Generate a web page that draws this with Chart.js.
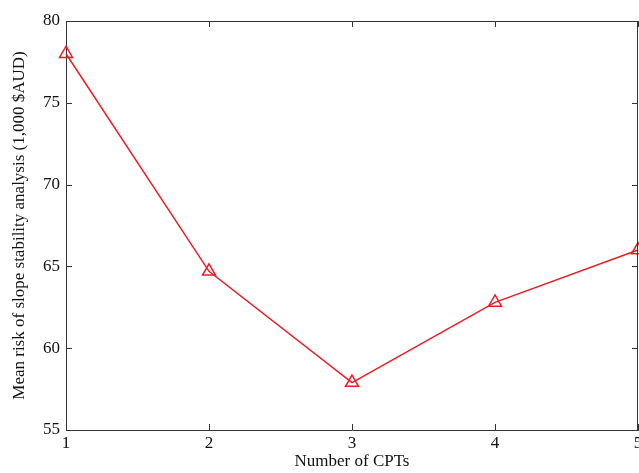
<!DOCTYPE html>
<html>
<head>
<meta charset="utf-8">
<script src="https://cdn.jsdelivr.net/npm/chart.js@4/dist/chart.umd.min.js"></script>
<style>
  html, body { margin: 0; padding: 0; background: #fff; overflow: hidden; }
  #wrap { width: 639px; height: 473px; overflow: hidden; position: relative; }
  #chart { display: block; }
</style>
</head>
<body>
<div id="wrap"><canvas id="chart" width="700" height="473"></canvas></div>
<script>
// number of CPTs vs mean risk (1,000 $AUD)
const cptCounts = [1, 2, 3, 4, 5];
const meanRisk = [78.0, 64.7, 57.9, 62.8, 66.0];
const yTicks = [55, 60, 65, 70, 75, 80];

const serif = '"Liberation Serif", "Times New Roman", serif';
const lineRed = '#ee1c25';
const axisColor = '#333';

// MATLAB style box: top/right border lines and inward ticks on all sides
const boxTicks = {
  id: 'boxTicks',
  afterDraw(chart) {
    const { ctx, chartArea: a, scales } = chart;
    const len = 6;
    ctx.save();
    ctx.strokeStyle = axisColor;
    ctx.lineWidth = 1;
    ctx.beginPath();
    ctx.moveTo(a.left, a.top + 0.5);
    ctx.lineTo(a.right, a.top + 0.5);
    ctx.moveTo(a.right - 0.5, a.top);
    ctx.lineTo(a.right - 0.5, a.bottom);
    cptCounts.forEach(v => {
      const px = Math.round(scales.x.getPixelForValue(v)) + 0.5;
      ctx.moveTo(px, a.bottom);
      ctx.lineTo(px, a.bottom - len);
      ctx.moveTo(px, a.top);
      ctx.lineTo(px, a.top + len);
    });
    yTicks.forEach(v => {
      const py = Math.round(scales.y.getPixelForValue(v)) + 0.5;
      ctx.moveTo(a.left, py);
      ctx.lineTo(a.left + len, py);
      ctx.moveTo(a.right, py);
      ctx.lineTo(a.right - len, py);
    });
    ctx.stroke();
    ctx.restore();
  }
};

new Chart(document.getElementById('chart'), {
  type: 'line',
  data: {
    datasets: [{
      data: cptCounts.map((c, i) => ({ x: c, y: meanRisk[i] })),
      borderColor: lineRed,
      borderWidth: 1.5,
      pointStyle: 'triangle',
      pointRadius: 7.5,
      pointBorderWidth: 1.5,
      pointBorderColor: lineRed,
      pointBackgroundColor: 'rgba(0,0,0,0)',
      tension: 0,
      clip: false
    }]
  },
  options: {
    responsive: false,
    animation: false,
    events: [],
    layout: { padding: { top: 21, right: 62, left: 0, bottom: 0 } },
    plugins: { legend: { display: false }, tooltip: { enabled: false } },
    scales: {
      x: {
        type: 'linear',
        min: 1,
        max: 5,
        afterFit(scale) { scale.height = 43; },
        afterBuildTicks(scale) { scale.ticks = cptCounts.map(v => ({ value: v })); },
        grid: { display: false, drawTicks: false },
        border: { display: true, color: axisColor, width: 1 },
        ticks: {
          padding: 3,
          color: '#111',
          font: { family: serif, size: 17 },
          maxRotation: 0
        },
        title: {
          display: true,
          text: 'Number of CPTs',
          color: '#111',
          font: { family: serif, size: 17 },
          padding: { top: 0, bottom: 1 }
        }
      },
      y: {
        min: 55,
        max: 80,
        afterFit(scale) { scale.width = 66; },
        afterBuildTicks(scale) { scale.ticks = yTicks.map(v => ({ value: v })); },
        grid: { display: false, drawTicks: false },
        border: { display: true, color: axisColor, width: 1 },
        ticks: {
          padding: 6,
          color: '#111',
          font: { family: serif, size: 17 }
        },
        title: {
          display: true,
          text: 'Mean risk of slope stability analysis (1,000 $AUD)',
          color: '#111',
          font: { family: serif, size: 17 },
          padding: { top: 9, bottom: 0 }
        }
      }
    }
  },
  plugins: [boxTicks]
});
</script>
</body>
</html>
